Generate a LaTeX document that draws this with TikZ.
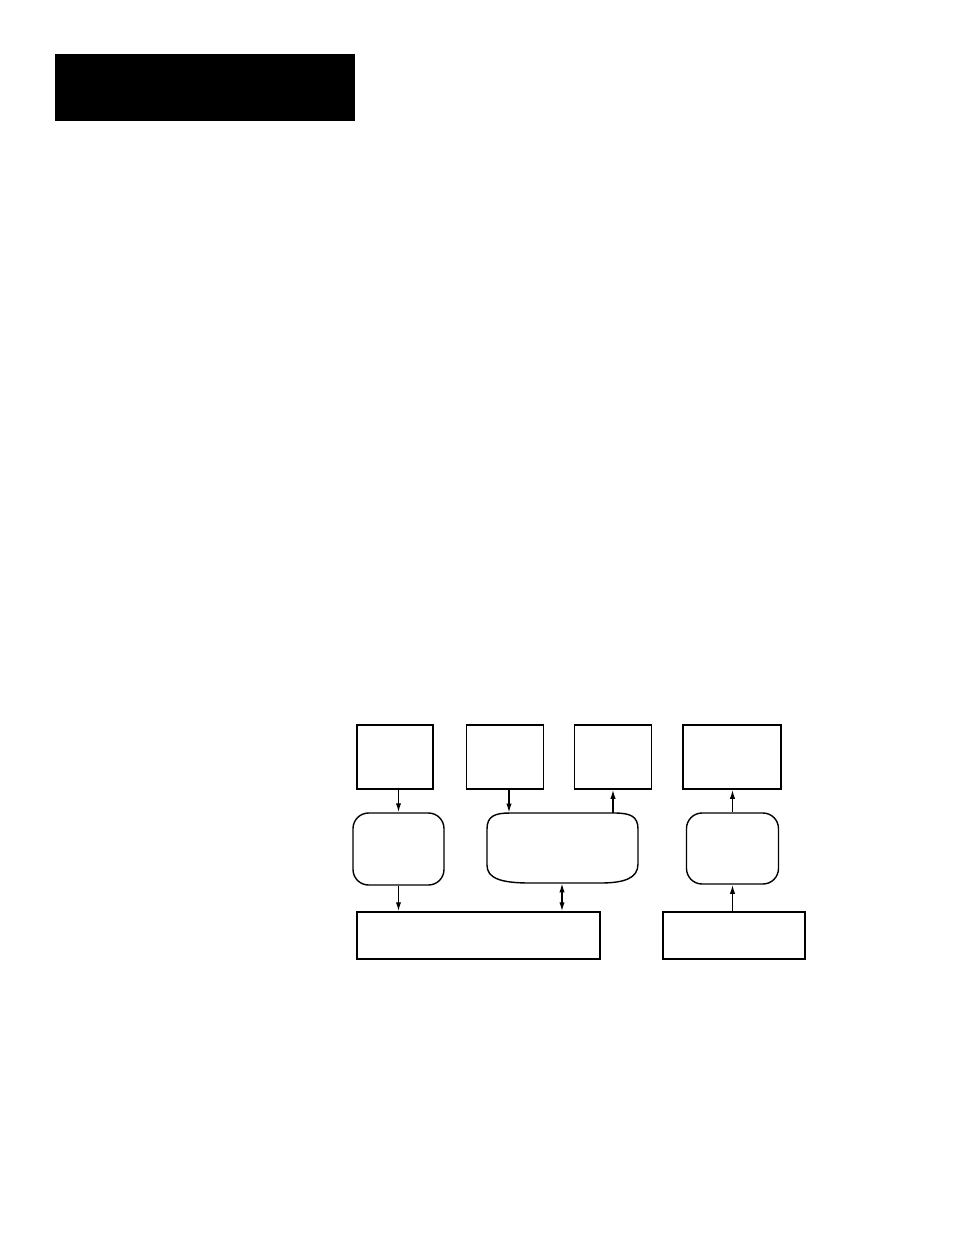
\documentclass[tikz,border=0pt]{standalone}
\usetikzlibrary{arrows.meta}

\newdimen\pxu
\pxu=0.6415pt

\tikzset{
    blocco/.style={draw, line width=0.9pt, rectangle, inner sep=0pt},
    tondo/.style={blocco, rounded corners=10pt},
    freccia/.style={line width=0.9pt, -{Latex[length=5.8pt, width=3.4pt]}},
    doppia/.style={line width=0.9pt, {Latex[length=5.8pt, width=3.4pt]}-{Latex[length=5.8pt, width=3.4pt]}}
}

\begin{document}
\begin{tikzpicture}[x=0.6415pt, y=-0.6415pt]

        \useasboundingbox (0, 0) rectangle (954, 1235);

        % Testata nera
        \node[fill=black, inner sep=0pt, minimum width={300*\pxu}, minimum height={67*\pxu}] (head) at (205, 87.5) {};

        % Riga superiore
        \node[blocco, minimum width={76*\pxu}, minimum height={64*\pxu}] (srcA) at (395, 757) {};
        \node[blocco, minimum width={77*\pxu}, minimum height={64*\pxu}] (srcB) at (505, 757) {};
        \node[blocco, minimum width={77*\pxu}, minimum height={64*\pxu}] (outC) at (613, 757) {};
        \node[blocco, minimum width={98*\pxu}, minimum height={64*\pxu}] (outD) at (732, 757) {};

        % Riga centrale (blocchi arrotondati)
        \node[tondo, minimum width={91*\pxu}, minimum height={72*\pxu}] (procL) at (398.5, 849) {};
        \node[inner sep=0pt, minimum width={151*\pxu}, minimum height={70*\pxu}] (procM) at (562, 848) {};
        \draw[line width=0.9pt] (487, 865) -- (487, 829)
            .. controls (487, 816) and (495, 813) .. (510, 813)
            -- (614, 813)
            .. controls (630, 813) and (638, 816) .. (638, 829)
            -- (638, 864)
            .. controls (638, 878) and (625, 883) .. (600, 883)
            -- (530, 883)
            .. controls (500, 883) and (487, 878) .. (487, 865) -- cycle;
        \node[tondo, minimum width={92*\pxu}, minimum height={71*\pxu}] (procR) at (732.5, 848.5) {};

        % Riga inferiore
        \node[blocco, minimum width={243*\pxu}, minimum height={47*\pxu}] (baseL) at (478.5, 935.5) {};
        \node[blocco, minimum width={142*\pxu}, minimum height={47*\pxu}] (baseR) at (734, 935.5) {};

        % Frecce
        \draw[freccia] (procL.north |- srcA.south) -- (procL.north);
        \draw[freccia] (procL.south) -- (procL.south |- baseL.north);
        \draw[freccia] (srcB.south) ++(4, 0) coordinate (bIn) -- (bIn |- procM.north);
        \draw[freccia] (outC.south |- procM.north) -- (outC.south);
        \draw[doppia] (procM.south) -- (procM.south |- baseL.north);
        \draw[freccia] (procR.north) -- (procR.north |- outD.south);
        \draw[freccia] (baseR.north -| procR.south) -- (procR.south);

\end{tikzpicture}
\end{document}
